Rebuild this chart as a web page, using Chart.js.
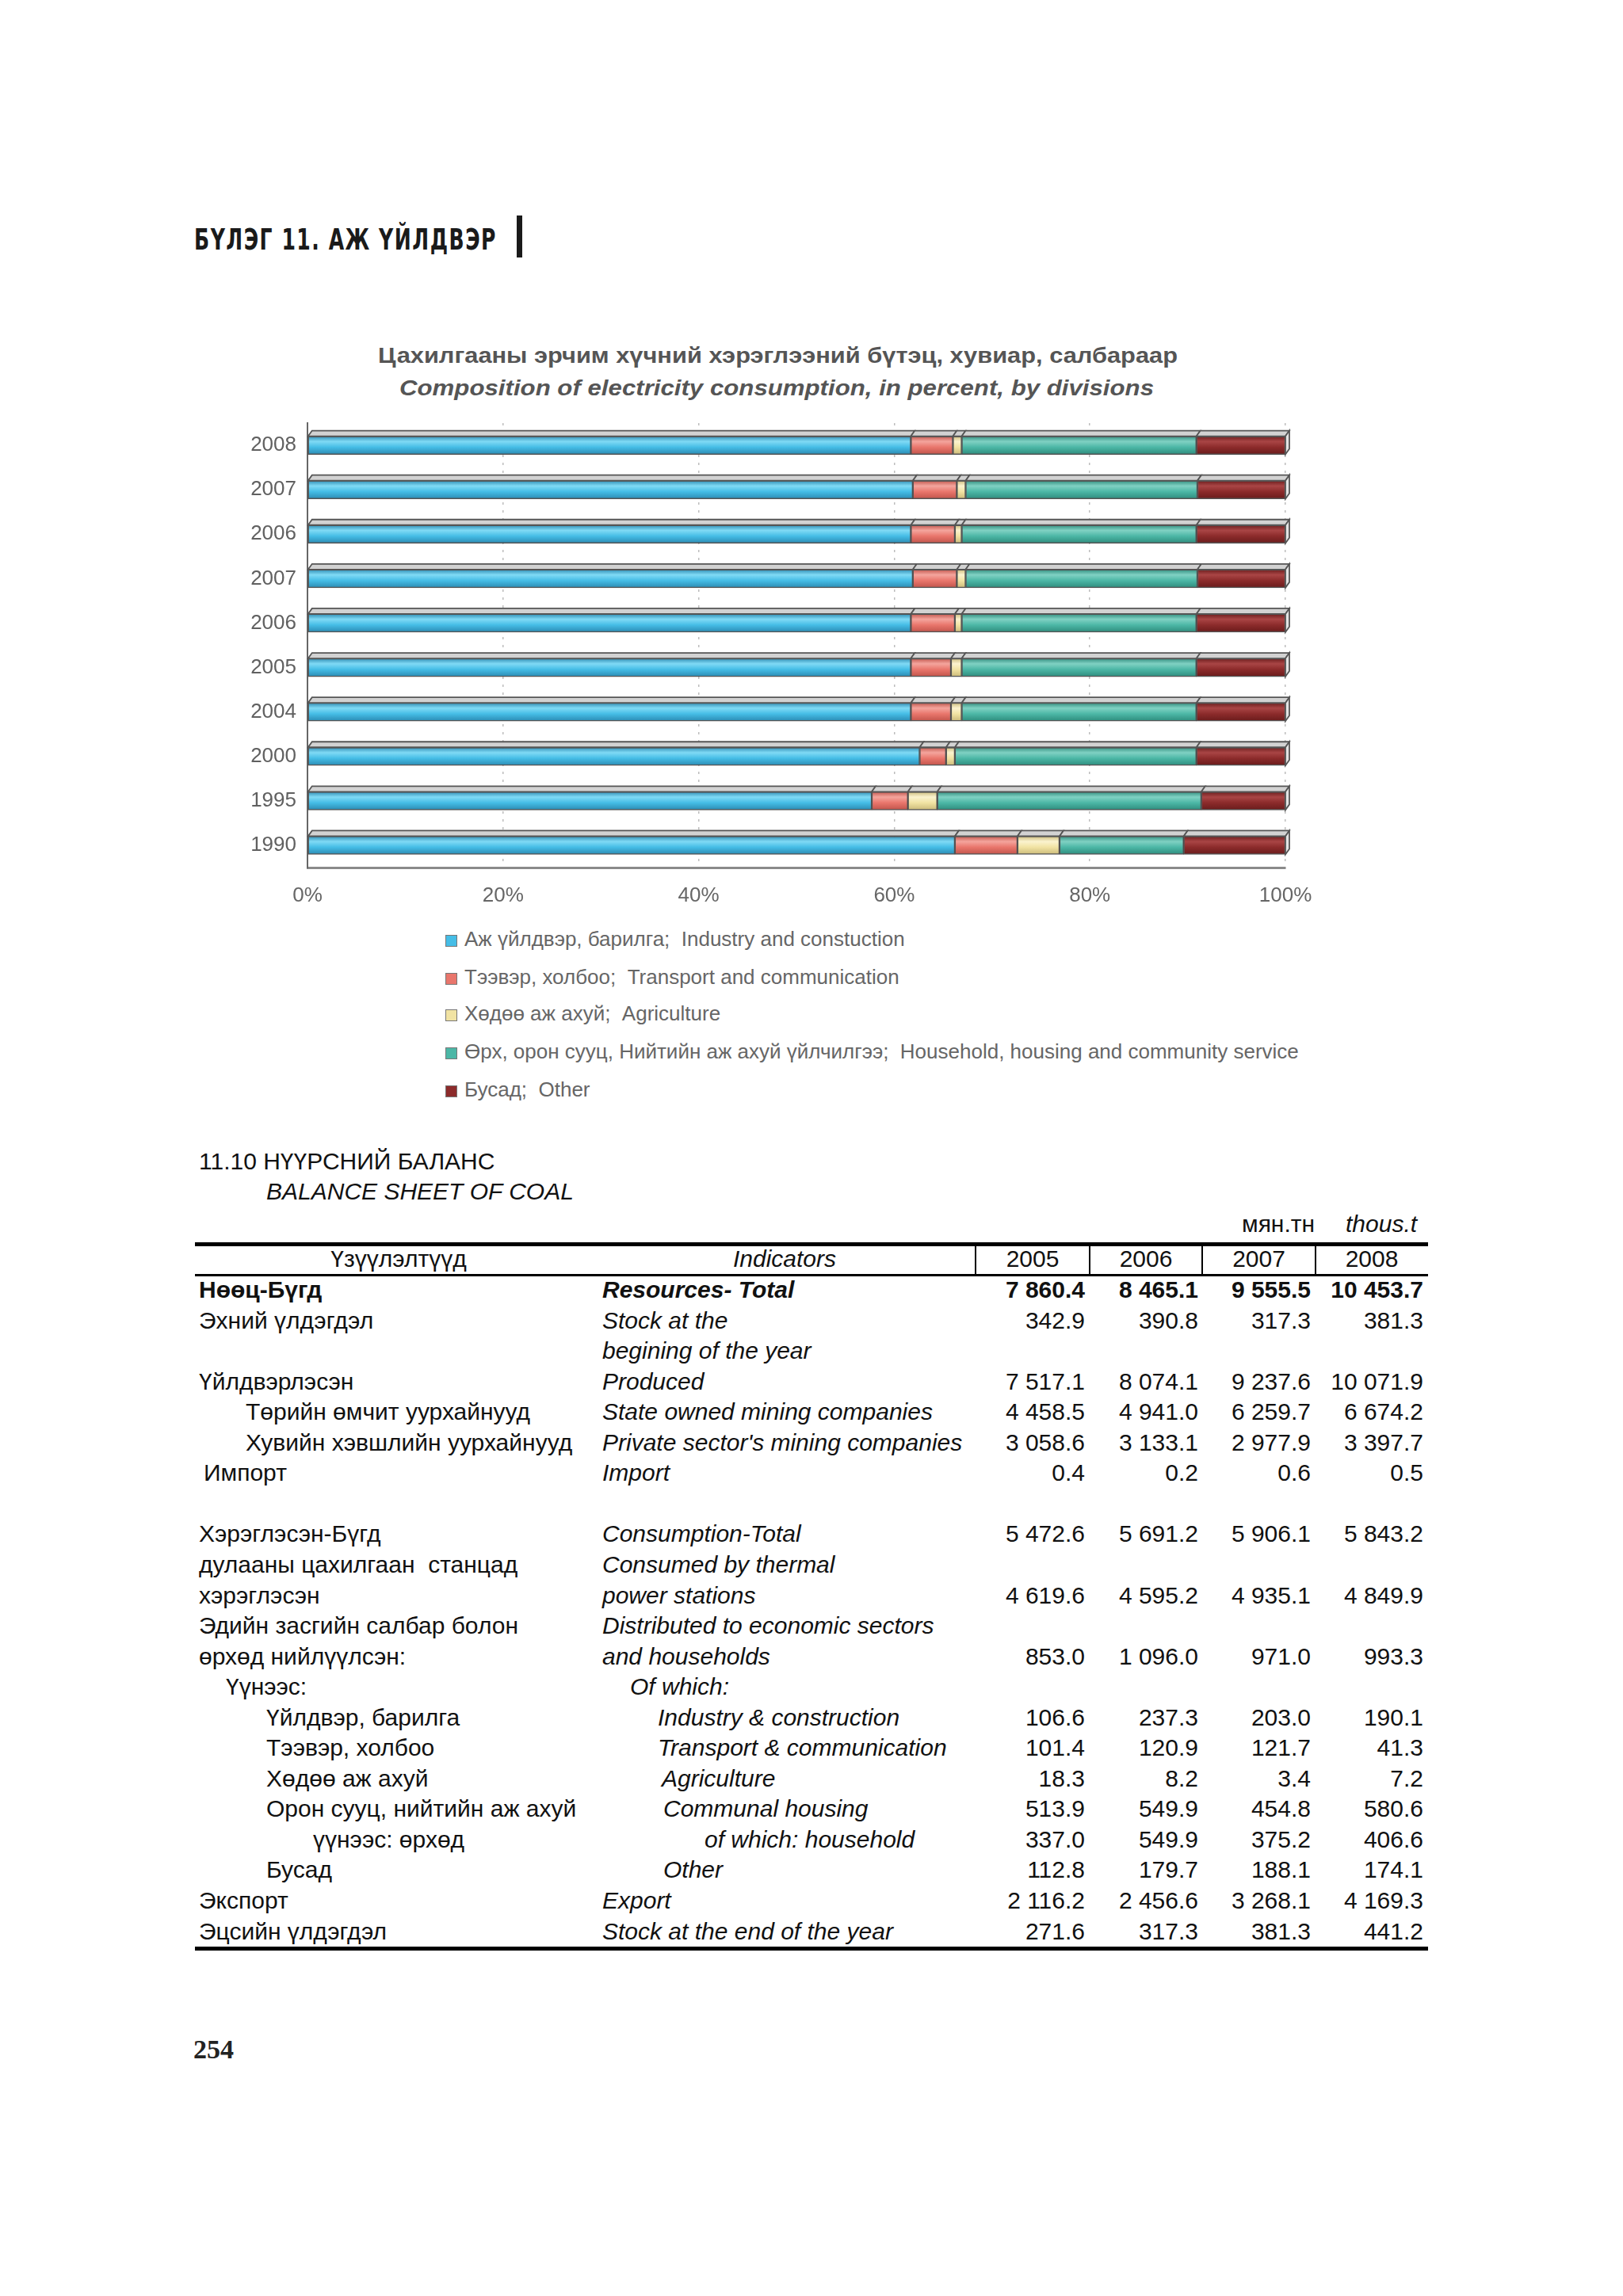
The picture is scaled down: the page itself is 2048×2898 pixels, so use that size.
<!DOCTYPE html>
<html>
<head>
<meta charset="utf-8">
<script src="https://cdn.jsdelivr.net/npm/chart.js@4.4.1/dist/chart.umd.min.js"></script>
<style>
  html, body { margin: 0; padding: 0; background: #fff; }
  body { width: 2048px; height: 2898px; position: relative; overflow: hidden;
         font-family: "Liberation Sans", Arial, sans-serif; color: #111; }
  .t { position: absolute; white-space: nowrap; display: inline-block; }
  .fit { transform-origin: left center; }
  #chartBox { position: absolute; left: 290px; top: 520px; width: 1400px; height: 640px; }
  .ctitle { font-weight: bold; color: #555; font-size: 28px; line-height: 30px; }
  .leg { position: absolute; left: 562px; font-size: 26px; line-height: 30px; color: #666; white-space: pre; }
  .leg i { display: inline-block; width: 13px; height: 13px; border: 1px solid #777; margin-right: 9px; vertical-align: -1px; }
  .row { position: absolute; font-size: 30px; line-height: 38px; white-space: nowrap; }
  .num { position: absolute; font-size: 30px; line-height: 38px; text-align: right; width: 140px; }
  .line { position: absolute; background: #000; }
</style>
</head>
<body>

<!-- page header -->
<div class="t fit" id="hdr" style="left:245px; top:284px; font-family:'DejaVu Sans Condensed','DejaVu Sans',sans-serif; font-weight:bold; font-size:37px; line-height:37px; color:#1a1a1a; letter-spacing:2px;">БҮЛЭГ 11. АЖ ҮЙЛДВЭР</div>
<div class="line" style="left:652px; top:272px; width:7px; height:53px; background:#1a1a1a;"></div>

<!-- chart titles -->
<div class="t fit ctitle" id="title1" style="left:477px; top:434px;">Цахилгааны эрчим хүчний хэрэглээний бүтэц, хувиар, салбараар</div>
<div class="t fit ctitle" id="title2" style="left:504px; top:475px; font-style:italic;">Composition of electricity consumption, in percent, by divisions</div>

<div id="chartBox"><canvas id="elecChart"></canvas></div>
<div id="legend"></div>

<div id="table"></div>

<div class="t" style="left:244px; top:2569px; font-family:'Liberation Serif','DejaVu Serif',serif; font-weight:bold; font-size:34px; line-height:35px; color:#222;">254</div>

<script>
// ---- chart data (percent shares) ----
const years = ['2008', '2007', '2006', '2007', '2006', '2005', '2004', '2000', '1995', '1990'];
const industry    = [61.7, 61.9, 61.7, 61.9, 61.7, 61.7, 61.7, 62.6, 57.7, 66.2];
const transport   = [4.3, 4.5, 4.5, 4.5, 4.5, 4.1, 4.1, 2.7, 3.7, 6.4];
const agriculture = [0.9, 0.9, 0.7, 0.9, 0.7, 1.1, 1.1, 0.9, 3.0, 4.3];
const household   = [24.0, 23.7, 24.0, 23.7, 24.0, 24.0, 24.0, 24.7, 27.0, 12.7];
const other       = [9.1, 9.0, 9.1, 9.0, 9.1, 9.1, 9.1, 9.1, 8.6, 10.4];
const xTicks = [0, 20, 40, 60, 80, 100];

const seriesNames = [
  'Аж үйлдвэр, барилга;  Industry and constuction',
  'Тээвэр, холбоо;  Transport and communication',
  'Хөдөө аж ахуй;  Agriculture',
  'Өрх, орон сууц, Нийтийн аж ахуй үйлчилгээ;  Household, housing and community service',
  'Бусад;  Other',
];

// ---- table data ----
const tableYears = ['2005', '2006', '2007', '2008'];
const indicatorsMn = [
  'Нөөц-Бүгд', 'Эхний үлдэгдэл', '', 'Үйлдвэрлэсэн', 'Төрийн өмчит уурхайнууд',
  'Хувийн хэвшлийн уурхайнууд', 'Импорт', '', 'Хэрэглэсэн-Бүгд', 'дулааны цахилгаан  станцад',
  'хэрэглэсэн', 'Эдийн засгийн салбар болон', 'өрхөд нийлүүлсэн:', 'Үүнээс:', 'Үйлдвэр, барилга',
  'Тээвэр, холбоо', 'Хөдөө аж ахуй', 'Орон сууц, нийтийн аж ахуй', 'үүнээс: өрхөд', 'Бусад',
  'Экспорт', 'Эцсийн үлдэгдэл',
];
const indicatorsEn = [
  'Resources- Total', 'Stock at the', 'begining of the year', 'Produced', 'State owned mining companies',
  "Private sector's mining companies", 'Import', '', 'Consumption-Total', 'Consumed by thermal',
  'power stations', 'Distributed to economic sectors', 'and households', 'Of which:', 'Industry & construction',
  'Transport & communication', 'Agriculture', 'Communal housing', 'of which: household', 'Other',
  'Export', 'Stock at the end of the year',
];
const values2005 = ['7 860.4', '342.9', '', '7 517.1', '4 458.5', '3 058.6', '0.4', '', '5 472.6', '', '4 619.6', '', '853.0', '', '106.6', '101.4', '18.3', '513.9', '337.0', '112.8', '2 116.2', '271.6'];
const values2006 = ['8 465.1', '390.8', '', '8 074.1', '4 941.0', '3 133.1', '0.2', '', '5 691.2', '', '4 595.2', '', '1 096.0', '', '237.3', '120.9', '8.2', '549.9', '549.9', '179.7', '2 456.6', '317.3'];
const values2007 = ['9 555.5', '317.3', '', '9 237.6', '6 259.7', '2 977.9', '0.6', '', '5 906.1', '', '4 935.1', '', '971.0', '', '203.0', '121.7', '3.4', '454.8', '375.2', '188.1', '3 268.1', '381.3'];
const values2008 = ['10 453.7', '381.3', '', '10 071.9', '6 674.2', '3 397.7', '0.5', '', '5 843.2', '', '4 849.9', '', '993.3', '', '190.1', '41.3', '7.2', '580.6', '406.6', '174.1', '4 169.3', '441.2'];

// layout of the table (x positions in px)
const mnX = [251, 251, 251, 251, 310, 310, 257, 251, 251, 251, 251, 251, 251, 285, 336, 336, 336, 336, 395, 336, 251, 251];
const enX = [760, 760, 760, 760, 760, 760, 760, 760, 760, 760, 760, 760, 760, 795, 830, 830, 835, 837, 889, 837, 760, 760];

// cylinder-like gradient for bar faces
function cyl(base, light, dark) {
  return (ctx) => {
    const chart = ctx.chart;
    if (!chart.chartArea || ctx.type !== 'data') return base;
    const y = chart.scales.y.getPixelForValue(ctx.dataIndex);
    const g = chart.ctx.createLinearGradient(0, y - 12, 0, y + 12);
    g.addColorStop(0, dark);
    g.addColorStop(0.3, light);
    g.addColorStop(0.6, base);
    g.addColorStop(1, dark);
    return g;
  };
}

const colors = [
  ['#45bde6', '#80daf5', '#2a88b0'],
  ['#e9766c', '#f4a59d', '#bf5249'],
  ['#f1e3a3', '#fbf3cf', '#c9b877'],
  ['#4cb7a6', '#80d1c3', '#2d8a7b'],
  ['#8c2b2b', '#a94545', '#681b1b'],
];

// draws the thin top face of each bar to mimic the 3D look
const bar3d = {
  id: 'bar3d',
  afterDatasetsDraw(chart) {
    const c = chart.ctx;
    const n = chart.data.datasets.length;
    chart.data.datasets.forEach((ds, di) => {
      chart.getDatasetMeta(di).data.forEach((el) => {
        const top = el.y - el.height / 2;
        const bot = el.y + el.height / 2;
        c.save();
        c.beginPath();
        c.moveTo(el.base, top);
        c.lineTo(el.x, top);
        c.lineTo(el.x + 5, top - 7);
        c.lineTo(el.base + 5, top - 7);
        c.closePath();
        c.fillStyle = '#d2d2d2';
        c.fill();
        c.strokeStyle = '#555';
        c.lineWidth = 1.8;
        c.stroke();
        if (di === n - 1) {
          c.beginPath();
          c.moveTo(el.x, top);
          c.lineTo(el.x + 5, top - 7);
          c.lineTo(el.x + 5, bot - 7);
          c.lineTo(el.x, bot);
          c.closePath();
          c.fillStyle = '#e4e4e4';
          c.fill();
          c.stroke();
        }
        c.restore();
      });
    });
  },
};

const seriesData = [industry, transport, agriculture, household, other];

new Chart(document.getElementById('elecChart'), {
  type: 'bar',
  data: {
    labels: years,
    datasets: seriesData.map((d, i) => ({
      label: seriesNames[i],
      data: d,
      backgroundColor: cyl(colors[i][0], colors[i][1], colors[i][2]),
      borderColor: 'rgba(55,55,55,0.85)',
      borderWidth: 1.5,
      borderSkipped: false,
      barThickness: 23,
    })),
  },
  options: {
    indexAxis: 'y',
    responsive: true,
    maintainAspectRatio: false,
    animation: false,
    layout: { padding: { top: 14, right: 68, left: 0, bottom: 0 } },
    plugins: { legend: { display: false }, tooltip: { enabled: false }, title: { display: false } },
    scales: {
      x: {
        stacked: true,
        min: 0,
        max: 100,
        afterBuildTicks: (s) => { s.ticks = xTicks.map(v => ({ value: v })); },
        afterFit: (s) => { s.height = 65; },
        ticks: {
          callback: (v) => v + '%',
          color: '#666',
          padding: 20,
          font: { family: 'Liberation Sans, Arial, sans-serif', size: 26 },
        },
        grid: { color: '#bdbdbd', lineWidth: 1.5, drawTicks: false },
        border: { color: '#8a8a8a', width: 3, dash: [3, 7] },
      },
      y: {
        stacked: true,
        afterFit: (s) => { s.width = 98; s.paddingTop = 0; s.paddingBottom = 0; },
        ticks: {
          color: '#606060',
          padding: 14,
          font: { family: 'Liberation Sans, Arial, sans-serif', size: 26 },
        },
        grid: { display: false, drawTicks: false },
        border: { color: '#666', width: 2 },
      },
    },
  },
  plugins: [bar3d],
});

// legend
const legendY = [1185, 1233, 1279, 1327, 1375];
document.getElementById('legend').innerHTML = seriesNames.map((name, i) =>
  `<div class="leg" style="top:${legendY[i] - 15}px;"><i style="background:${colors[i][0]};"></i>${name}</div>`
).join('');

// table
const tb = [];
tb.push(`<div class="row" style="left:251px; top:${1466 - 19}px;">11.10 НҮҮРСНИЙ БАЛАНС</div>`);
tb.push(`<div class="row" style="left:336px; top:${1504 - 19}px; font-style:italic;">BALANCE SHEET OF COAL</div>`);
tb.push(`<div class="row" style="left:1567px; top:${1545 - 19}px;">мян.тн</div>`);
tb.push(`<div class="row" style="left:1698px; top:${1545 - 19}px; font-style:italic;">thous.t</div>`);
tb.push(`<div class="line" style="left:246px; top:1568px; width:1556px; height:5px;"></div>`);
tb.push(`<div class="line" style="left:246px; top:1608px; width:1556px; height:3px;"></div>`);
tb.push(`<div class="line" style="left:246px; top:2457px; width:1556px; height:5px;"></div>`);
const colEdges = [1231, 1375, 1517, 1660, 1802];
[0, 1, 2, 3].forEach(i => tb.push(`<div class="line" style="left:${colEdges[i] - 1}px; top:1573px; width:2px; height:35px;"></div>`));
tb.push(`<div class="row" style="left:403px; width:200px; text-align:center; top:${1589 - 19}px;">Үзүүлэлтүүд</div>`);
tb.push(`<div class="row" style="left:890px; width:200px; text-align:center; top:${1589 - 19}px; font-style:italic;">Indicators</div>`);
tableYears.forEach((y, i) => {
  const c = (colEdges[i] + colEdges[i + 1]) / 2;
  tb.push(`<div class="row" style="left:${c - 60}px; width:120px; text-align:center; top:${1589 - 19}px;">${y}</div>`);
});
const valueCols = [values2005, values2006, values2007, values2008];
const valueRight = [1369, 1512, 1654, 1796];
indicatorsMn.forEach((mn, r) => {
  const top = 1628 + r * 38.55 - 19;
  const bold = r === 0 ? 'font-weight:bold;' : '';
  if (mn) tb.push(`<div class="row" style="left:${mnX[r]}px; top:${top}px; white-space:pre; ${bold}">${mn}</div>`);
  if (indicatorsEn[r]) tb.push(`<div class="row" style="left:${enX[r]}px; top:${top}px; font-style:italic; ${bold}">${indicatorsEn[r]}</div>`);
  valueCols.forEach((col, ci) => {
    if (col[r]) tb.push(`<div class="num" style="left:${valueRight[ci] - 140}px; top:${top}px; ${bold}">${col[r]}</div>`);
  });
});
document.getElementById('table').innerHTML = tb.join('');

// stretch single-line titles to the widths they have on the page
function fitText(id, w) {
  const el = document.getElementById(id);
  const cur = el.getBoundingClientRect().width;
  el.style.transform = `scaleX(${w / cur})`;
}
fitText('hdr', 382);
fitText('title1', 1009);
fitText('title2', 952);
</script>
</body>
</html>
